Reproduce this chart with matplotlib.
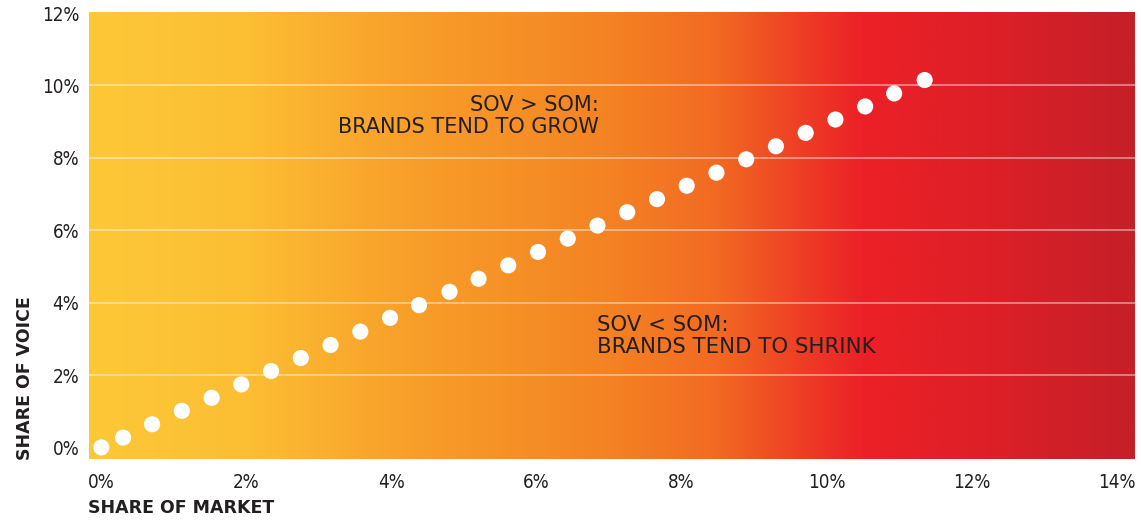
import numpy as np
import matplotlib
matplotlib.use("Agg")
import matplotlib.pyplot as plt
from matplotlib.colors import LinearSegmentedColormap

# Data, in percent
share_of_market = [0.0, 0.30, 0.70, 1.11, 1.52, 1.93, 2.34, 2.75, 3.16, 3.57,
                   3.98, 4.38, 4.80, 5.20, 5.61, 6.02, 6.43, 6.84, 7.25, 7.66,
                   8.07, 8.48, 8.89, 9.30, 9.71, 10.12, 10.53, 10.93, 11.35]
share_of_voice = [0.0, 0.27, 0.64, 1.01, 1.37, 1.74, 2.11, 2.47, 2.83, 3.20,
                  3.58, 3.93, 4.30, 4.66, 5.03, 5.40, 5.77, 6.13, 6.50, 6.86,
                  7.23, 7.59, 7.96, 8.32, 8.69, 9.06, 9.42, 9.78, 10.15]
x_ticks = [0, 2, 4, 6, 8, 10, 12, 14]
y_ticks = [0, 2, 4, 6, 8, 10, 12]
x_label = "SHARE OF MARKET"
y_label = "SHARE OF VOICE"
note_grow = "SOV > SOM:\nBRANDS TEND TO GROW"
note_shrink = "SOV < SOM:\nBRANDS TEND TO SHRINK"

plt.rcParams['font.family'] = ['DejaVu Sans']
txt = '#231F20'

fig = plt.figure(figsize=(11.41, 5.20), dpi=100)
ax = fig.add_axes([89/1141, 61/520, 1046/1141, 447/520])

xmin, xmax = -0.17, 14.25
ymin, ymax = -0.32, 12.03

cmap = LinearSegmentedColormap.from_list('bg', [
    (0.00, '#FDC838'),
    (0.15, '#FCBE33'),
    (0.30, '#F8A02A'),
    (0.50, '#F48223'),
    (0.60, '#F26A22'),
    (0.68, '#EE3F25'),
    (0.74, '#EC2127'),
    (0.85, '#DF1F27'),
    (1.00, '#C52028'),
])
grad = np.linspace(0, 1, 512).reshape(1, -1)
ax.imshow(grad, cmap=cmap, extent=[xmin, xmax, ymin, ymax], aspect='auto',
          zorder=0, interpolation='bicubic')

for yv in y_ticks[1:-1]:
    ax.axhline(yv, color='white', alpha=0.45, lw=1.3, zorder=1)

ax.scatter(share_of_market, share_of_voice, s=135, color='white',
           edgecolors='none', zorder=3)

ax.set_xlim(xmin, xmax)
ax.set_ylim(ymin, ymax)
for s in ax.spines.values():
    s.set_visible(False)

ax.set_xticks(x_ticks)
ax.set_xticklabels([f"{v}%" for v in x_ticks], fontsize=13.5, color=txt,
                   fontstretch='condensed')
ax.set_yticks(y_ticks)
ax.set_yticklabels([f"{v}%" for v in y_ticks], fontsize=13.5, color=txt,
                   fontstretch='condensed')
ax.tick_params(axis='both', length=0)
ax.tick_params(axis='x', pad=10)
ax.tick_params(axis='y', pad=7)

fig.text(88/1141, 1 - 508/520, x_label, fontsize=12.5, fontweight='bold',
         color=txt, ha='left', va='center')
fig.text(25/1141, 1 - 460/520, y_label, fontsize=12.5, fontweight='bold',
         color=txt, ha='center', va='bottom', rotation=90)

ax.text(6.86, 9.75, note_grow, fontsize=15, color=txt, ha='right', va='top',
        linespacing=1.15)
ax.text(6.84, 3.66, note_shrink, fontsize=15.3, color=txt, ha='left', va='top',
        linespacing=1.15)

fig.savefig('out.png', dpi=100)
